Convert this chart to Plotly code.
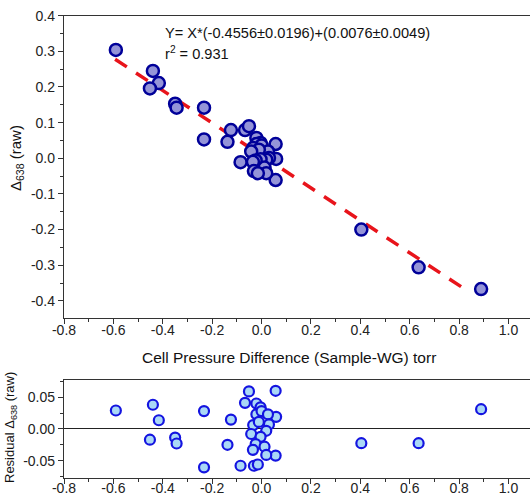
import plotly.graph_objects as go

# main panel: pressure difference vs raw Delta638
pressure_diff = [-0.590, -0.440, -0.416, -0.452, -0.350, -0.344, -0.233, -0.233,
                 -0.124, -0.138, -0.067, -0.051, -0.085, 0.057, 0.059, 0.057,
                 -0.021, -0.004, -0.021, 0.000, 0.026, 0.030, -0.034, -0.011,
                 0.019, -0.042, -0.004, -0.024, 0.012, -0.035, 0.019, -0.031,
                 -0.015, 0.404, 0.636, 0.889]
delta_raw = [0.304, 0.245, 0.211, 0.196, 0.153, 0.142, 0.142, 0.053,
             0.079, 0.046, 0.079, 0.090, -0.011, 0.040, -0.002, -0.061,
             0.057, 0.043, 0.040, 0.036, 0.019, 0.001, 0.029, 0.024,
             -0.004, 0.019, -0.003, -0.006, -0.026, -0.010, -0.042, -0.036,
             -0.042, -0.200, -0.306, -0.367]
residuals = [0.029, 0.038, 0.0136, -0.017, -0.0136, -0.023, 0.028, -0.0605,
             0.0146, -0.025, 0.041, 0.059, -0.058, 0.060, 0.019, -0.042,
             0.040, 0.034, 0.023, 0.028, 0.023, 0.007, 0.006, 0.011,
             -0.003, -0.008, -0.0125, -0.024, -0.028, -0.033, -0.041, -0.058,
             -0.056, -0.0225, -0.0225, 0.031]

# regression line as drawn (end points)
fit_x = [-0.593, 0.845]
fit_y = [0.278, -0.377]

fit_text = "Y= X*(-0.4556±0.0196)+(0.0076±0.0049)"
r2_text = "r<sup>2</sup> = 0.931"

# tick labels (plain hyphen minus, as in the original)
x_ticks = [-0.8, -0.6, -0.4, -0.2, 0.0, 0.2, 0.4, 0.6, 0.8, 1.0]
x_ticktext = ["-0.8", "-0.6", "-0.4", "-0.2", "0.0", "0.2", "0.4", "0.6", "0.8", "1.0"]
y_ticks = [-0.4, -0.3, -0.2, -0.1, 0.0, 0.1, 0.2, 0.3, 0.4]
y_ticktext = ["-0.4", "-0.3", "-0.2", "-0.1", "0.0", "0.1", "0.2", "0.3", "0.4"]
res_ticks = [-0.05, 0.0, 0.05]
res_ticktext = ["-0.05", "0.00", "0.05"]

W, H = 530, 498
FONT = "Liberation Sans, Arial, sans-serif"
AXC = "#333333"

fig = go.Figure()

fig.add_trace(go.Scatter(
    x=fit_x, y=fit_y, mode="lines",
    line=dict(color="#e8141b", width=3.5, dash="14px,11px"),
    xaxis="x", yaxis="y", showlegend=False, hoverinfo="skip"
))
fig.add_trace(go.Scatter(
    x=pressure_diff, y=delta_raw, mode="markers",
    marker=dict(size=12, color="#9494d8", line=dict(color="#000099", width=2.5)),
    xaxis="x", yaxis="y", showlegend=False
))
fig.add_trace(go.Scatter(
    x=pressure_diff, y=residuals, mode="markers",
    marker=dict(size=10, color="#aad8f6", line=dict(color="#1414e0", width=2.2)),
    xaxis="x2", yaxis="y2", showlegend=False
))


def px_x(p):
    return p / W


def px_y(p):
    return 1 - p / H


axis_common = dict(
    showline=True, linecolor=AXC, linewidth=1.3, showgrid=False, zeroline=False,
    automargin=False,
    ticks="outside", ticklen=5, tickwidth=1.2, tickcolor=AXC,
    tickfont=dict(family=FONT, size=14, color="#222222"),
)

fig.update_layout(
    template="none",
    width=W, height=H,
    margin=dict(l=0, r=0, t=0, b=0, autoexpand=False),
    paper_bgcolor="white", plot_bgcolor="white",
    showlegend=False,
    xaxis=dict(axis_common, domain=[px_x(64), 1], range=[-0.8, 1.087],
               tickvals=x_ticks, ticktext=x_ticktext, mirror=True,
               ticklabelstandoff=-6,
               minor=dict(dtick=0.1, tick0=-0.8, ticks="outside", ticklen=3, tickcolor=AXC),
               anchor="y"),
    yaxis=dict(axis_common, domain=[px_y(318.3), px_y(15.7)], range=[-0.449, 0.4],
               tickvals=y_ticks, ticktext=y_ticktext,
               minor=dict(dtick=0.05, tick0=0, ticks="outside", ticklen=3, tickcolor=AXC),
               anchor="x"),
    xaxis2=dict(axis_common, domain=[px_x(64), 1], range=[-0.8, 1.087],
                tickvals=x_ticks, ticktext=x_ticktext, mirror=True,
                ticklabelstandoff=-7,
                minor=dict(dtick=0.1, tick0=-0.8, ticks="outside", ticklen=3, tickcolor=AXC),
                anchor="y2"),
    yaxis2=dict(axis_common, domain=[px_y(477.5), px_y(380.3)], range=[-0.0765, 0.0765],
                tickvals=res_ticks, ticktext=res_ticktext,
                zeroline=True, zerolinecolor="#222222", zerolinewidth=1.3,
                minor=dict(dtick=0.025, tick0=0, ticks="outside", ticklen=3, tickcolor=AXC),
                anchor="x2"),
)

annots = [
    dict(text=fit_text, x=px_x(163), y=px_y(33), xanchor="left", yanchor="middle",
         font=dict(family=FONT, size=14.6, color="#111111")),
    dict(text=r2_text, x=px_x(163), y=px_y(53), xanchor="left", yanchor="middle",
         font=dict(family=FONT, size=14.6, color="#111111")),
    dict(text="Cell Pressure Difference (Sample-WG) torr", x=px_x(289), y=px_y(357),
         xanchor="center", yanchor="middle",
         font=dict(family=FONT, size=15.5, color="#111111")),
    dict(text="Δ<sub>638</sub> (raw)", x=px_x(17), y=px_y(158), textangle=-90,
         xanchor="center", yanchor="middle",
         font=dict(family=FONT, size=15, color="#111111")),
    dict(text="Residual Δ<sub>638</sub> (raw)", x=px_x(10), y=px_y(428), textangle=-90,
         xanchor="center", yanchor="middle",
         font=dict(family=FONT, size=13, color="#111111")),
]
for a in annots:
    fig.add_annotation(xref="paper", yref="paper", showarrow=False, **a)

# drop the browser's default body margin so the figure sits at the page corner
fig.write_html("out.html", config={"displayModeBar": False},
               post_script="document.body.style.margin='0';")
